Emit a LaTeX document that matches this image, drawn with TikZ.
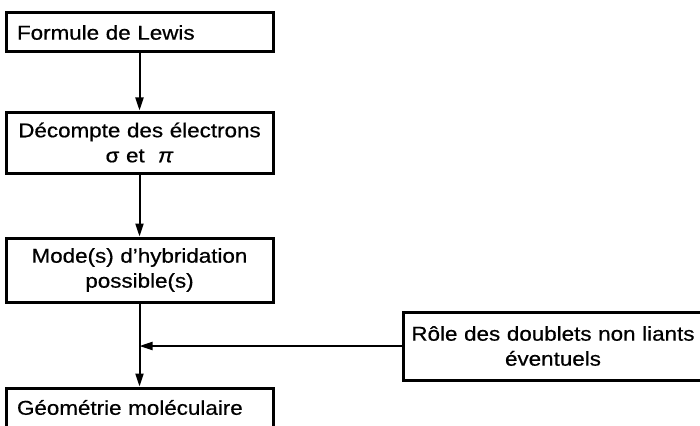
\documentclass[tikz,border=0pt]{standalone}
\usepackage{fontspec}
\setmainfont{Liberation Sans}[FakeStretch=1.12, FakeBold=0.6]
\usetikzlibrary{arrows.meta}

\begin{document}
\begin{tikzpicture}[x=1pt, y=-1pt,
    box/.style={rectangle, draw, line width=3pt, inner sep=0pt, minimum width=267pt, text width=245pt, font=\fontsize{20}{25}\selectfont},
    link/.style={line width=2pt, -{Triangle[length=13pt, width=8pt]}}]

    \useasboundingbox (0,0) rectangle (700,425);

    \node[box, minimum height=39pt, align=left] (lewis) at (139.5,32.5) {Formule de Lewis};
    \node[box, minimum height=61pt, align=center] (decompte) at (139.5,142.5) {Décompte des électrons\\ σ et\ \ \textit{π}};
    \node[box, minimum height=64pt, align=center] (hybrid) at (139.5,270) {Mode(s) d’hybridation\\ possible(s)};
    \node[box, minimum height=39pt, align=left] (geom) at (139.5,407.5) {Géométrie moléculaire};

    \node[box, minimum width=300pt, text width=288pt, minimum height=68pt, align=center] (role) at (553,346) {Rôle des doublets non liants\\ éventuels};

    \coordinate (junction) at (139.5,346);

    \draw[link] (lewis) -- (decompte);
    \draw[link] (decompte) -- (hybrid);
    \draw[link] (hybrid) -- (geom);
    \draw[link] (role) -- (junction);

\end{tikzpicture}
\end{document}
